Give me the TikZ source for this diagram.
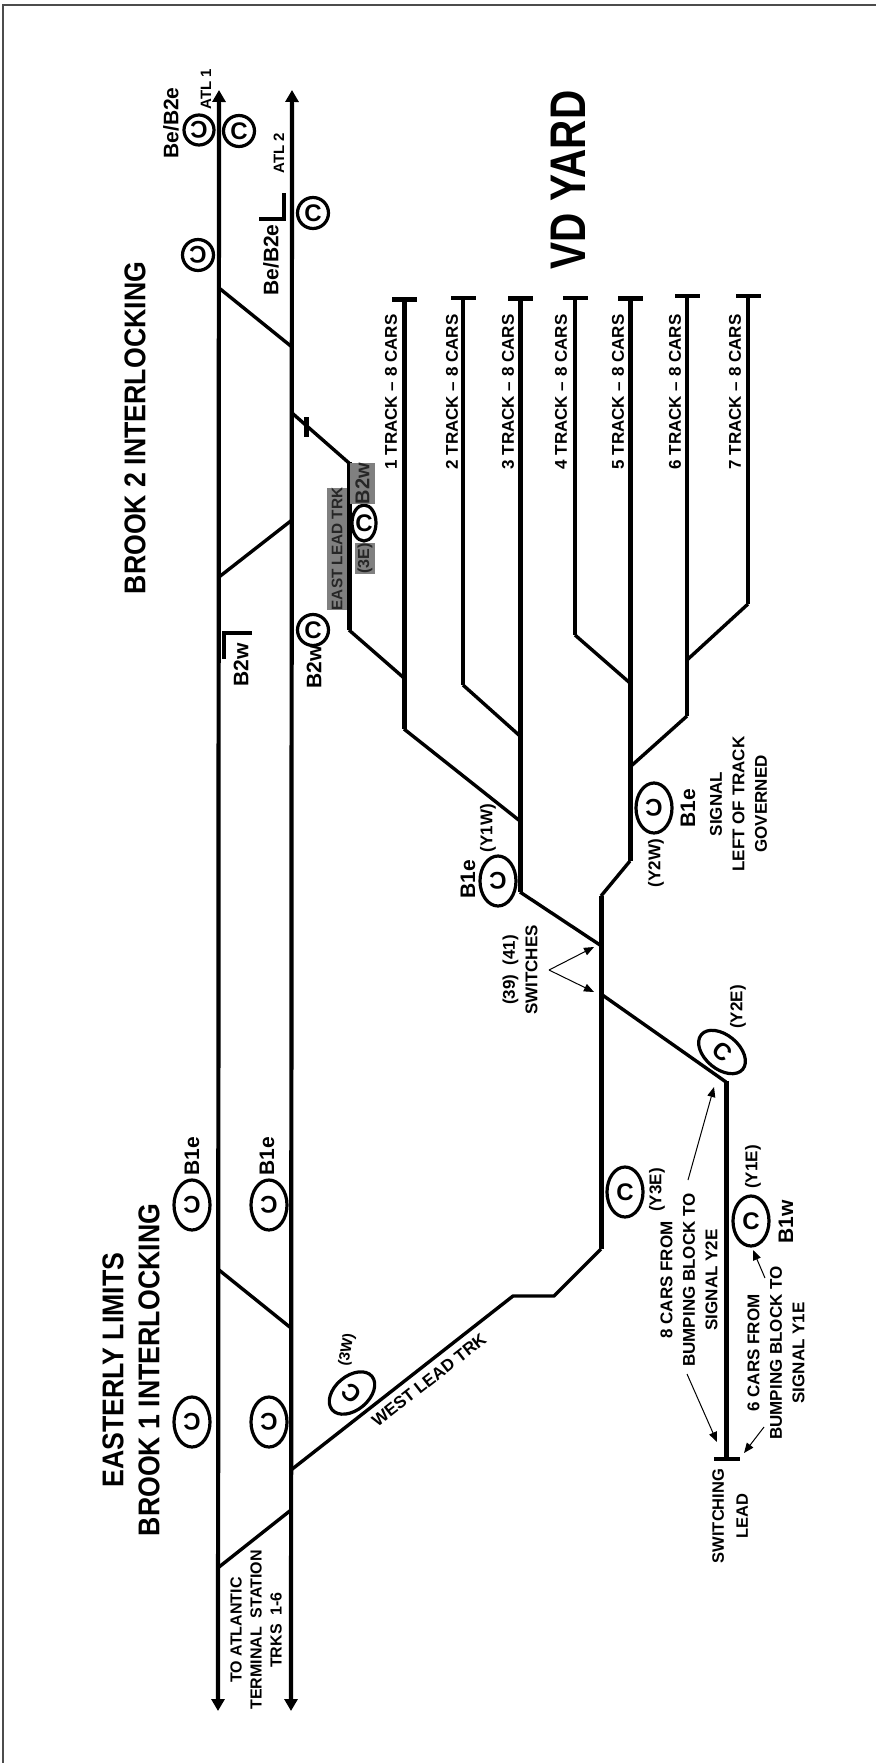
\documentclass[tikz,border=0pt]{standalone}
\usepackage{fontspec}
\setmainfont{Liberation Sans}
\newfontfamily\titlef{Liberation Sans}[FakeStretch=0.89]
\newfontfamily\yardf{Liberation Sans}[FakeStretch=0.81]
\usetikzlibrary{arrows.meta,shapes.geometric}
\definecolor{graybox}{HTML}{808080}
\tikzset{
  x=1pt,y=1pt,
  trackthick/.style={line width=5pt,line join=miter},
  trackmain/.style={line width=4.2pt,{Triangle[length=12pt,width=13pt]}-{Triangle[length=12pt,width=13pt]}},
  trackmid/.style={line width=4pt},
  trackthin/.style={line width=3.4pt},
  pointer/.style={line width=1pt,-{Triangle[length=10pt,width=8pt]}},
  lbl/.style={inner sep=0pt,rotate=90,font=\bfseries\fontsize{17}{22.5}\selectfont,align=center,text=black},
  sigshape/.style={inner sep=0pt,font=\bfseries\fontsize{24}{24}\selectfont},
  glabel/.style={lbl,fill=graybox,text=black!85},
  titlelbl/.style={lbl,font=\titlef\bfseries\fontsize{30}{30}\selectfont},
  namelbl/.style={lbl,font=\bfseries\fontsize{21}{21}\selectfont},
  smalllbl/.style={lbl,font=\bfseries\fontsize{15}{15}\selectfont},
}
% #1 name #2 x #3 y #4 width #5 height #6 ellipse angle #7 glyph angle
\newcommand{\signal}[7]{%
  \node[draw,line width=3.2pt,ellipse,minimum width=#4,minimum height=#5,rotate=#6,inner sep=0pt] (#1) at (#2,-#3) {};
  \node[sigshape,rotate=#7] at (#1) {C};
}
\begin{document}
\begin{tikzpicture}
\useasboundingbox (0,0) rectangle (876,-1763);
% frame
\draw[line width=2pt,draw=black!70] (3,-1763) -- (3,-5) -- (876,-5);
% main tracks
\coordinate (a1t) at (219,-90); \coordinate (a1b) at (218,-1711);
\coordinate (a2t) at (292,-90); \coordinate (a2b) at (291,-1711);
\draw[trackmain] (a1b) -- (a1t);
\draw[trackmain] (a2b) -- (a2t);
% crossovers
\draw[trackthin] (219,-288) -- (292,-347);
\draw[trackthin] (292,-520) -- (219,-577);
\draw[trackthin] (219,-1270) -- (291,-1328);
\draw[trackthin] (291,-1510) -- (219,-1567);
% east lead
\draw[trackthin] (292,-413) -- (349,-463);
\draw[trackthick] (349,-462) -- (349,-630);
\draw[trackthin] (349,-630) -- (404,-678);
\draw[line width=5pt] (306.5,-417) -- (306.5,-437);
% yard tracks
\draw[trackthick] (392,-299) -- (417,-299);
\draw[trackthick] (404,-299) -- (404,-729);
\draw[trackthin] (404,-729) -- (520,-821);
\draw[line width=4pt] (451,-298) -- (476,-298);
\draw[trackmid] (463,-298) -- (463,-685);
\draw[trackthin] (463,-685) -- (520,-736);
\draw[trackthick] (508,-298) -- (533,-298);
\draw[trackthick] (520,-298) -- (520,-892);
\draw[trackthin] (520,-892) -- (600,-945);
\draw[line width=4pt] (563,-298) -- (588,-298);
\draw[trackmid] (575,-298) -- (575,-635);
\draw[trackthin] (575,-635) -- (630,-683);
\draw[trackthick] (618,-298) -- (643,-298);
\draw[trackthick] (630,-298) -- (630,-861);
\draw[trackthin] (630,-861) -- (601,-896);
\draw[trackthick] (601,-896) -- (601,-1249);
\draw[trackthin,line join=round] (601,-1249) -- (554,-1296) -- (513,-1296) -- (291,-1470);
\draw[line width=4pt] (675,-296) -- (700,-296);
\draw[trackmid] (687,-296) -- (687,-716);
\draw[trackthin] (687,-716) -- (630,-767);
\draw[line width=4pt] (736,-296) -- (761,-296);
\draw[trackmid] (748,-296) -- (748,-604);
\draw[trackthin] (748,-604) -- (687,-660);
\draw[trackthin] (601,-994) -- (726,-1082);
\draw[trackthick] (726,-1081) -- (726,-1459);
\draw[line width=4pt] (714,-1459) -- (740,-1459);
% dwarf signal L
\draw[trackmid] (259,-219) -- (284,-219) -- (284,-193);
\draw[trackmid] (252,-633) -- (224,-633) -- (224,-659);
% signals
\signal{s1}{199}{130}{30}{30}{0}{180}
\signal{s2}{239}{131}{31}{31}{0}{0}
\signal{s3}{198}{255}{31}{31}{0}{180}
\signal{s4}{313}{213}{31}{31}{0}{0}
\signal{s5}{313}{630}{31}{31}{0}{0}
\signal{s6}{364}{523}{24}{36}{0}{0}
\signal{s7}{498}{881}{36}{50}{0}{180}
\signal{s8}{654}{808}{36}{50}{0}{180}
\signal{s9}{722}{1052}{54}{34}{-40}{-40}
\signal{s10}{625}{1192}{36}{50}{0}{0}
\signal{s11}{751}{1221}{36}{50}{0}{0}
\signal{s12}{192}{1205}{36}{50}{0}{180}
\signal{s13}{269}{1205}{36}{50}{0}{180}
\signal{s14}{192}{1422}{36}{50}{0}{180}
\signal{s15}{269}{1422}{36}{50}{0}{180}
\signal{s16}{352}{1393}{52}{34}{40}{140}
% titles
\node[titlelbl] (t1) at (113,-1370) {EASTERLY LIMITS};
\node[titlelbl] (t2) at (149,-1370) {BROOK 1 INTERLOCKING};
\node[titlelbl] (t3) at (135,-428) {BROOK 2 INTERLOCKING};
\node[lbl,font=\yardf\bfseries\fontsize{50}{50}\selectfont] (t4) at (568,-180) {VD YARD};
% top labels
\node[smalllbl] (n1) at (206,-89) {ATL 1};
\node[smalllbl] (n2) at (279,-153) {ATL 2};
\node[namelbl] (n3) at (171,-123) {Be/B2e};
\node[namelbl] (n4) at (271,-260) {Be/B2e};
\node[namelbl] (n5) at (241,-665) {B2w};
\node[namelbl] (n6) at (314,-667) {B2w};
% yard track labels
\foreach \nm/\xx in {1/391,2/452,3/508,4/561,5/618,6/675,7/735}{
  \node[lbl] (y\nm) at (\xx,-392) {\nm\ TRACK -- 8 CARS};
}
% grey
\node[glabel,minimum width=122pt,minimum height=20pt,font=\bfseries\fontsize{15.3}{15.3}\selectfont] (g1) at (337,-549) {EAST LEAD TRK};
\node[glabel,minimum width=39pt,minimum height=25pt,font=\bfseries\fontsize{20}{20}\selectfont] (g2) at (362.5,-483.5) {B2w};
\node[glabel,minimum width=29pt,minimum height=20pt,font=\bfseries\fontsize{16}{16}\selectfont] (g3) at (365,-558.5) {(3E)};
% B1e
\node[namelbl] (b1) at (192,-1156) {B1e};
\node[namelbl] (b2) at (267,-1156) {B1e};
\node[namelbl] (b3) at (468,-879) {B1e};
\node[namelbl] (b4) at (688,-808) {B1e};
\node[namelbl] (b5) at (786,-1222) {B1w};
\node[lbl] (c1) at (488,-828) {(Y1W)};
\node[lbl] (c2) at (656,-863) {(Y2W)};
\node[lbl] (c3) at (738,-1007) {(Y2E)};
\node[lbl] (c4) at (657,-1190) {(Y3E)};
\node[lbl] (c5) at (753,-1167) {(Y1E)};
\node[smalllbl,rotate=-10] (c6) at (347,-1350) {(3W)};
\node[lbl,rotate=-52] (w) at (429,-1380) {WEST LEAD TRK};
% notes
\node[lbl] (sg) at (738.5,-804) {SIGNAL\\LEFT OF TRACK\\GOVERNED};
\node[lbl] (sw) at (520,-970) {(39)\ \ (41)\\SWITCHES};
\node[lbl] (e8) at (689,-1280) {8 CARS FROM\\BUMPING BLOCK TO\\SIGNAL Y2E};
\node[lbl] (e6) at (776,-1353) {6 CARS FROM\\BUMPING BLOCK TO\\SIGNAL Y1E};
\node[lbl,font=\bfseries\fontsize{16.5}{24}\selectfont] (sl) at (730,-1516) {SWITCHING\\LEAD};
\node[lbl,font=\bfseries\fontsize{16}{20}\selectfont] (ta) at (256,-1630) {TO ATLANTIC\\TERMINAL\ \ STATION\\TRKS\ \ 1-6};
% pointers
\coordinate (p0) at (549,-970);
\draw[pointer] (p0) -- (594,-947);
\draw[pointer] (p0) -- (594,-992);
\draw[pointer] (688,-1180) -- (714,-1087);
\draw[pointer] (687,-1374) -- (717,-1442);
\draw[pointer] (765,-1278) -- (753,-1250);
\draw[pointer] (764,-1427) -- (744,-1453);
\end{tikzpicture}
\end{document}
